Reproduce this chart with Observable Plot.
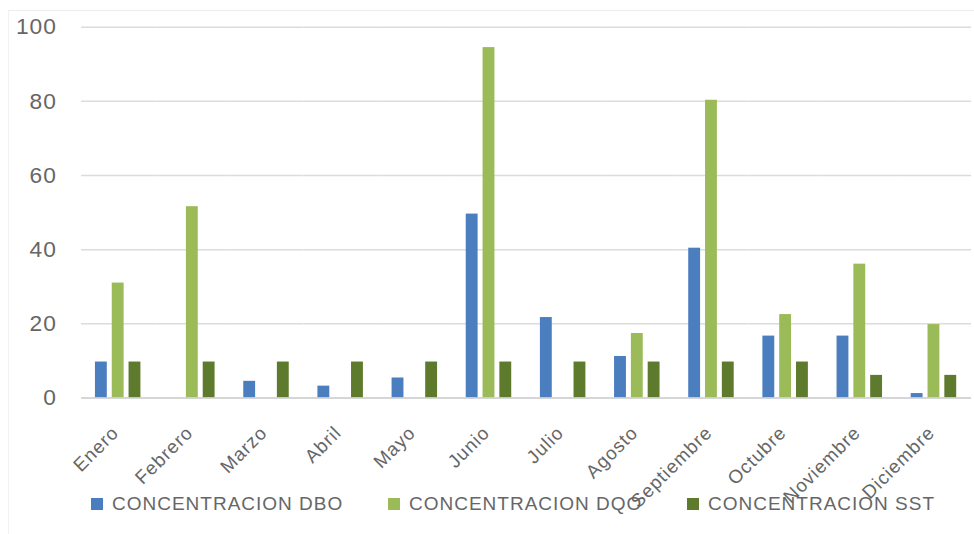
<!DOCTYPE html>
<html>
<head>
<meta charset="utf-8">
<script src="https://cdn.jsdelivr.net/npm/d3@7"></script>
<script src="https://cdn.jsdelivr.net/npm/@observablehq/plot@0.6"></script>
<style>
  html, body { margin: 0; padding: 0; background: #fff; overflow: hidden; }
  #wrap { position: relative; width: 974px; height: 534px; overflow: hidden; }
  #frame { position: absolute; left: 8px; top: 10px; right: 0; bottom: 0; border-top: 1px solid #ececec; border-left: 1px solid #f2f2f2; pointer-events: none; }
  #chart { position: absolute; left: 0; top: 0; }
  #chart svg text { letter-spacing: 1px; }
  #legend { position: absolute; left: 0; top: 0; width: 974px; height: 534px; pointer-events: none;
            font-family: "Liberation Sans", Arial, sans-serif; font-size: 19px; color: #666; letter-spacing: 1px; }
  .item { position: absolute; top: 493px; display: flex; align-items: center; white-space: nowrap; }
  .sw { width: 12px; height: 12px; margin-right: 9px; }
</style>
</head>
<body>
<div id="wrap">
  <div id="frame"></div>
  <div id="chart"></div>
  <div id="legend"></div>
</div>
<script>
const months = ["Enero","Febrero","Marzo","Abril","Mayo","Junio","Julio","Agosto","Septiembre","Octubre","Noviembre","Diciembre"];
const series = ["CONCENTRACION DBO","CONCENTRACION DQO","CONCENTRACION SST"];
const dbo = [9.7, null, 4.5, 3.2, 5.4, 49.6, 21.7, 11.2, 40.4, 16.7, 16.7, 1.2];
const dqo = [31, 51.6, null, null, null, 94.5, null, 17.4, 80.3, 22.5, 36.1, 19.8];
const sst = [9.7, 9.7, 9.7, 9.7, 9.7, 9.7, 9.7, 9.7, 9.7, 9.7, 6.1, 6.1];
const yTicks = [0, 20, 40, 60, 80, 100];
const colors = ["#4a7ebf", "#9bbb59", "#5e7a2d"];

const values = [dbo, dqo, sst];
const data = [];
months.forEach((m, i) => {
  series.forEach((s, j) => {
    if (values[j][i] != null) data.push({month: m, series: s, value: values[j][i]});
  });
});

const chart = Plot.plot({
  width: 985,
  height: 534,
  marginTop: 27,
  marginBottom: 132,
  marginLeft: 78,
  marginRight: 0,
  style: {fontFamily: "'Liberation Sans', Arial, sans-serif", color: "#666", background: "transparent"},
  fx: {domain: months, padding: 0, label: null},
  x: {domain: series, paddingInner: 0.286, paddingOuter: 0.8, axis: null},
  y: {domain: [0, 100], label: null},
  color: {domain: series, range: colors},
  marks: [
    Plot.gridY(yTicks, {stroke: "#dcdcdc", strokeOpacity: 1, strokeWidth: 1.5}),
    Plot.barY(data, {fx: "month", x: "series", y: "value", fill: "series"}),
    Plot.ruleY([0], {stroke: "#d0d0d0", strokeWidth: 1.5}),
    Plot.axisY(yTicks, {tickSize: 0, tickPadding: 25, fontSize: 23, fill: "#666", label: null}),
    Plot.axisFx({anchor: "bottom", tickSize: 0, tickPadding: 32, dx: -3, tickRotate: -45, fontSize: 19, fill: "#666", label: null})
  ]
});
document.getElementById("chart").appendChild(chart);

const legend = document.getElementById("legend");
const lefts = [91, 388, 687];
series.forEach((s, j) => {
  const it = document.createElement("div");
  it.className = "item";
  it.style.left = lefts[j] + "px";
  const sw = document.createElement("div");
  sw.className = "sw";
  sw.style.background = colors[j];
  const t = document.createElement("span");
  t.textContent = s;
  it.appendChild(sw);
  it.appendChild(t);
  legend.appendChild(it);
});
</script>
</body>
</html>
